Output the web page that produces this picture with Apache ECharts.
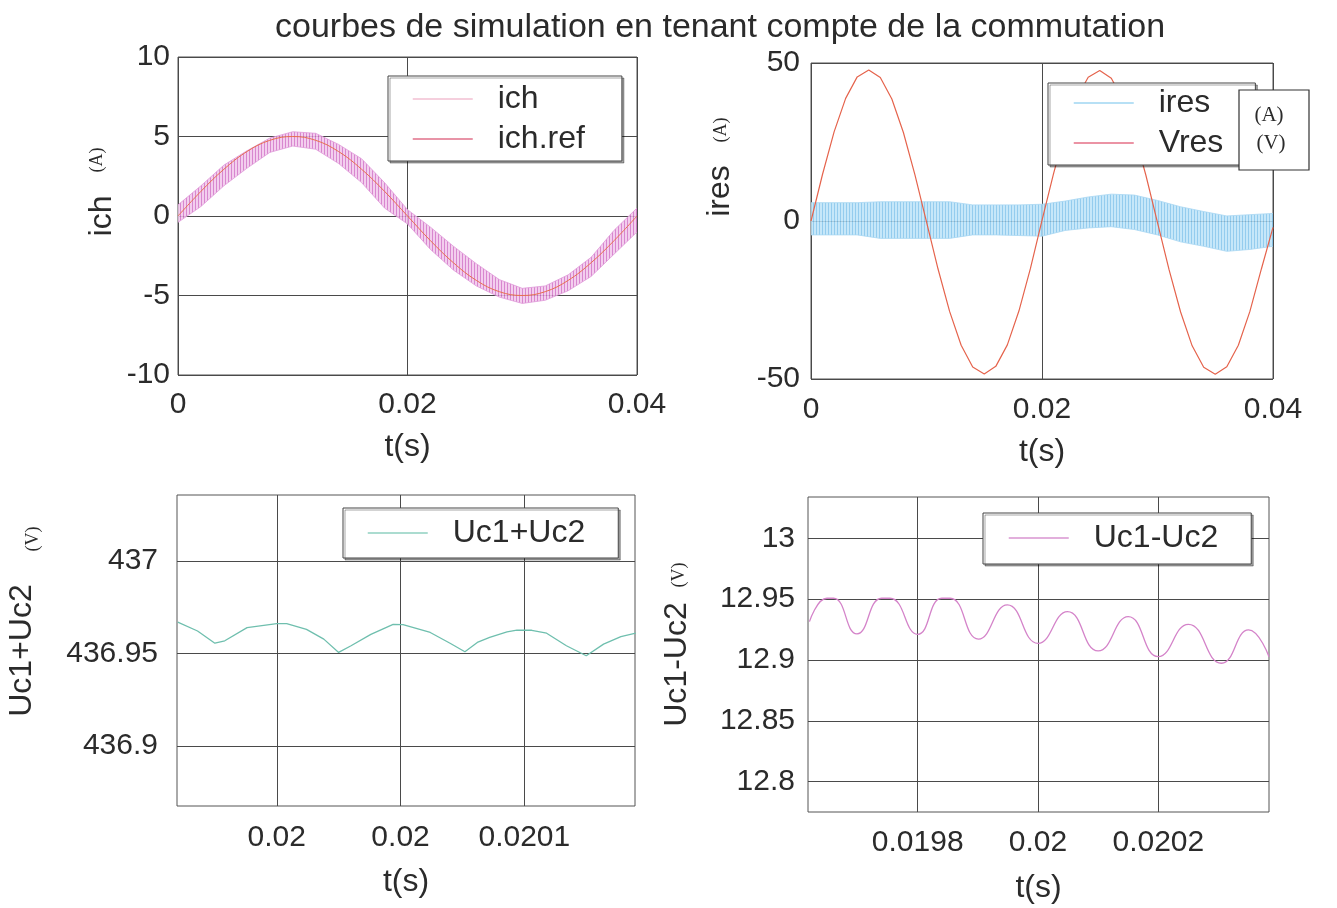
<!DOCTYPE html>
<html>
<head>
<meta charset="utf-8">
<title>courbes de simulation</title>
<script src="https://cdn.jsdelivr.net/npm/echarts@6.0.0/dist/echarts.min.js"></script>
<style>
    html, body { margin: 0; padding: 0; background: #fff; }
    #main { width: 1337px; height: 908px; }
</style>
</head>
<body>
<div id="main"></div>
<script>
// ---- valeurs ----
// ich : bande de commutation (haut / bas) et reference
var tIch    = [0, 0.002, 0.004, 0.006, 0.008, 0.010, 0.012, 0.014, 0.016, 0.018, 0.020, 0.022, 0.024, 0.026, 0.028, 0.030, 0.032, 0.034, 0.036, 0.038, 0.040];
var ichHaut = [0.7, 1.9, 3.2, 4.1, 4.9, 5.3, 5.2, 4.5, 3.6, 2.1, 0.4, -0.7, -1.9, -3.0, -4.0, -4.55, -4.4, -3.7, -2.6, -0.9, 0.5];
var ichBas  = [-0.4, 0.6, 1.9, 3.0, 4.0, 4.4, 4.2, 3.3, 2.1, 0.5, -0.5, -2.1, -3.4, -4.4, -5.1, -5.5, -5.3, -4.7, -3.8, -2.4, -1.0];
var ichRef  = [0, 1.55, 2.94, 4.05, 4.76, 5.0, 4.76, 4.05, 2.94, 1.55, 0, -1.55, -2.94, -4.05, -4.76, -5.0, -4.76, -4.05, -2.94, -1.55, 0];

// ires : bande (haut / bas)
var tRes     = [0, 0.002, 0.004, 0.006, 0.008, 0.010, 0.012, 0.014, 0.016, 0.018, 0.020, 0.022, 0.024, 0.026, 0.028, 0.030, 0.032, 0.034, 0.036, 0.038, 0.040];
var iresHaut = [5.8, 5.8, 5.8, 6.1, 6.1, 6.1, 6.1, 5.1, 5.1, 5.1, 5.3, 6.3, 7.6, 8.5, 8.2, 6.5, 4.5, 3.0, 1.6, 2.0, 2.4];
var iresBas  = [-4.4, -4.4, -4.4, -5.5, -5.5, -5.5, -5.5, -4.4, -4.4, -4.6, -4.8, -3.0, -2.2, -1.8, -2.7, -4.4, -6.6, -8.0, -9.6, -9.0, -8.0];

// Vres
var tVres = [0, 0.001, 0.002, 0.003, 0.004, 0.005, 0.006, 0.007, 0.008, 0.009, 0.010, 0.011, 0.012, 0.013, 0.014, 0.015, 0.016, 0.017, 0.018, 0.019, 0.020,
             0.021, 0.022, 0.023, 0.024, 0.025, 0.026, 0.027, 0.028, 0.029, 0.030, 0.031, 0.032, 0.033, 0.034, 0.035, 0.036, 0.037, 0.038, 0.039, 0.040];
var vres  = [0, 14.8, 28.2, 38.8, 45.6, 47.8, 45.4, 38.6, 28.0, 14.6, -0.3, -15.2, -28.6, -39.3, -46.2, -48.4, -46.0, -39.2, -28.5, -15.0, 0.2,
             15.0, 28.4, 38.9, 45.5, 47.6, 45.2, 38.4, 27.8, 14.4, -0.5, -15.4, -28.8, -39.5, -46.3, -48.5, -46.1, -39.3, -28.6, -15.1, -2.0];

// Uc1+Uc2
var tSomme = [0.01991, 0.019918, 0.019925, 0.019929, 0.019938, 0.01995, 0.019954, 0.019962, 0.019969, 0.019975, 0.01998, 0.019988, 0.019997, 0.020001,
              0.020012, 0.02002, 0.020026, 0.020031, 0.020036, 0.020043, 0.020047, 0.020053, 0.020059, 0.020067, 0.020075, 0.020082, 0.020089, 0.020095];
var uSomme = [436.9669, 436.9621, 436.9555, 436.9568, 436.9639, 436.9661, 436.9661, 436.963, 436.9577, 436.9505, 436.9541, 436.9603, 436.9657, 436.9656,
              436.9613, 436.9555, 436.9509, 436.9559, 436.9586, 436.9616, 436.9626, 436.9625, 436.9609, 436.9541, 436.9487, 436.955, 436.9591, 436.9609];

// Uc1-Uc2
var tDiff = [0.01962, 0.019649, 0.01966, 0.019699, 0.01974, 0.019754, 0.0198, 0.01984, 0.019854, 0.019901, 0.019949, 0.02, 0.020049,
             0.0201, 0.02015, 0.0202, 0.02025, 0.020305, 0.02035, 0.020384];
var uDiff = [12.9315, 12.9507, 12.9507, 12.9214, 12.9507, 12.9507, 12.9211, 12.9507, 12.9507, 12.9172, 12.9452, 12.9137, 12.9397,
             12.9074, 12.9356, 12.9027, 12.9293, 12.8973, 12.9247, 12.9027];

// graduations des graphes du bas
var ticksSomme  = [0.01995, 0.02, 0.02005];
var labelsSomme = ['0.02', '0.02', '0.0201'];
var ticksDiff   = [0.0198, 0.02, 0.0202];
var labelsDiff  = ['0.0198', '0.02', '0.0202'];
var ticksUs     = [436.9, 436.95, 437];
var ticksUd     = [12.8, 12.85, 12.9, 12.95, 13];

// ---- construction ----
var police = 'Liberation Sans, Arial, sans-serif';
var serif = 'Liberation Serif, Times New Roman, serif';
var encre = '#2b2b2b';

function paires(t, v) {
    return t.map(function (x, i) { return [x, v[i]]; });
}
function hachures(fonce, clair) {
    var c = document.createElement('canvas');
    c.width = 3; c.height = 4;
    var g = c.getContext('2d');
    g.fillStyle = clair; g.fillRect(0, 0, 3, 4);
    g.fillStyle = fonce; g.fillRect(0, 0, 1, 4);
    return { image: c, repeat: 'repeat' };
}
function libelle(ticks, labels) {
    return function (v) {
        for (var i = 0; i < ticks.length; i++) {
            if (Math.abs(v - ticks[i]) < 1e-9) return labels[i];
        }
        return '';
    };
}

var grille = { show: true, lineStyle: { color: '#4a4a4a', width: 1 } };
var texte = { color: encre, fontSize: 30, fontFamily: police };
var titreAxe = { color: encre, fontSize: 32, fontFamily: police };

function axeX(idx, opts) {
    var a = {
        type: 'value', gridIndex: idx,
        name: 't(s)', nameLocation: 'middle', nameGap: opts.gap,
        nameTextStyle: titreAxe,
        min: opts.min, max: opts.max,
        axisLine: { show: false }, axisTick: { show: false },
        axisLabel: Object.assign({ margin: opts.margin }, texte),
        splitLine: grille
    };
    if (opts.interval) a.interval = opts.interval;
    if (opts.ticks) {
        a.axisTick.customValues = opts.ticks;
        a.axisLabel.customValues = opts.ticks;
        a.axisLabel.formatter = libelle(opts.ticks, opts.labels);
    }
    return a;
}
function axeY(idx, opts) {
    var a = {
        type: 'value', gridIndex: idx,
        name: opts.name, nameLocation: 'middle', nameGap: opts.gap,
        nameTextStyle: Object.assign({ padding: opts.pad || 0 }, titreAxe),
        min: opts.min, max: opts.max,
        axisLine: { show: false }, axisTick: { show: false },
        axisLabel: Object.assign({ margin: opts.margin }, texte),
        splitLine: grille
    };
    if (opts.interval) a.interval = opts.interval;
    if (opts.ticks) {
        a.axisTick.customValues = opts.ticks;
        a.axisLabel.customValues = opts.ticks;
    }
    return a;
}
function legende(x, y, noms, couleurs, pad) {
    return {
        orient: 'vertical', left: x, top: y,
        data: noms.map(function (n, i) {
            return {
                name: n,
                itemStyle: { opacity: 0 },
                lineStyle: { color: couleurs[i], width: 1.5, opacity: 1 }
            };
        }),
        itemWidth: 60, itemHeight: 14, itemGap: 8,
        padding: pad,
        backgroundColor: '#fff', borderColor: '#444', borderWidth: 1,
        shadowColor: 'rgba(0,0,0,0.35)', shadowOffsetX: 2, shadowOffsetY: 2, shadowBlur: 0,
        textStyle: { fontSize: 32, color: encre, fontFamily: police, padding: [0, 0, 0, 20] },
        selectedMode: false
    };
}
function unite(txt, x, y) {
    return {
        type: 'text', x: x, y: y, rotation: Math.PI / 2, z: 100,
        style: { text: txt, font: '18px ' + serif, fill: encre, align: 'center', verticalAlign: 'middle' }
    };
}
// bande de commutation : polygone entre l'enveloppe haute et l'enveloppe basse
function bande(idx, t, haut, bas, motif) {
    return {
        type: 'custom', xAxisIndex: idx, yAxisIndex: idx, silent: true,
        data: paires(t, haut), encode: { x: 0, y: 1 },
        renderItem: function (params, api) {
            if (params.dataIndex !== 0) return;
            var pts = [];
            for (var i = 0; i < t.length; i++) pts.push(api.coord([t[i], haut[i]]));
            for (var j = t.length - 1; j >= 0; j--) pts.push(api.coord([t[j], bas[j]]));
            return { type: 'polygon', shape: { points: pts }, style: { fill: motif, opacity: 0.85 } };
        }
    };
}
function courbe(idx, nom, t, v, couleur, largeur, lisse) {
    return {
        type: 'line', name: nom, xAxisIndex: idx, yAxisIndex: idx,
        data: paires(t, v), symbol: 'none', smooth: lisse || false,
        itemStyle: { color: couleur },
        lineStyle: { width: largeur, color: couleur }
    };
}

var chart = echarts.init(document.getElementById('main'));

var option = {
    animation: false,
    backgroundColor: '#fff',
    title: {
        text: 'courbes de simulation en tenant compte de la commutation',
        left: 270, top: 6,
        textStyle: { fontSize: 34, fontWeight: 'normal', color: encre, fontFamily: police }
    },
    grid: [
        { left: 178, top: 57, width: 459, height: 318, show: true, borderColor: '#555', borderWidth: 1 },
        { left: 811, top: 63, width: 462, height: 316, show: true, borderColor: '#555', borderWidth: 1 },
        { left: 177, top: 495, width: 458, height: 311, show: true, borderColor: '#555', borderWidth: 1 },
        { left: 808, top: 497, width: 461, height: 315, show: true, borderColor: '#555', borderWidth: 1 }
    ],
    xAxis: [
        axeX(0, { min: 0, max: 0.04, interval: 0.02, gap: 56, margin: 15 }),
        axeX(1, { min: 0, max: 0.04, interval: 0.02, gap: 57, margin: 16 }),
        axeX(2, { min: 0.0199097, max: 0.0200947, ticks: ticksSomme, labels: labelsSomme, gap: 60, margin: 17 }),
        axeX(3, { min: 0.0196176, max: 0.020384, ticks: ticksDiff, labels: labelsDiff, gap: 60, margin: 16 })
    ],
    yAxis: [
        axeY(0, { name: 'ich', min: -10, max: 10, interval: 5, gap: 60, margin: 8 }),
        axeY(1, { name: 'ires', min: -50, max: 50, interval: 50, gap: 75, margin: 11, pad: [0, 0, 0, 60] }),
        axeY(2, { name: 'Uc1+Uc2', min: 436.8674, max: 437.0357, ticks: ticksUs, gap: 139, margin: 19 }),
        axeY(3, { name: 'Uc1-Uc2', min: 12.7751, max: 13.0339, ticks: ticksUd, gap: 115, margin: 13, pad: [0, 20, 0, 0] })
    ],
    legend: [
        legende(388, 76, ['ich', 'ich.ref'], ['#f2bfd2', '#e0708a'], [7, 37, 6, 24]),
        legende(1048, 83, ['ires', 'Vres'], ['#9fd6f2', '#e46f86'], [4, 32, 6, 25]),
        legende(343, 508, ['Uc1+Uc2'], ['#8fd0c0'], [9, 33, 9, 24]),
        legende(983, 513, ['Uc1-Uc2'], ['#d895d0'], [9, 33, 10, 25])
    ],
    graphic: [
        unite('(A)', 97, 160),
        unite('(A)', 721, 130),
        unite('(V)', 33, 539),
        unite('(V)', 679, 575),
        { type: 'rect', z: 100, shape: { x: 1239, y: 90, width: 70, height: 80 },
          style: { fill: '#fff', stroke: '#333', lineWidth: 1.2 } },
        { type: 'text', z: 101, x: 1269, y: 115,
          style: { text: '(A)', font: '21px ' + serif, fill: encre, align: 'center', verticalAlign: 'middle' } },
        { type: 'text', z: 101, x: 1271, y: 143,
          style: { text: '(V)', font: '21px ' + serif, fill: encre, align: 'center', verticalAlign: 'middle' } }
    ],
    series: [
        bande(0, tIch, ichHaut, ichBas, hachures('#d272c7', '#f1c6ec')),
        courbe(0, 'ich', tIch, ichHaut, '#e09ad9', 0.8),
        courbe(0, 'ich', tIch, ichBas, '#e09ad9', 0.8),
        courbe(0, 'ich.ref', tIch, ichRef, '#e8704e', 1, 0.4),
        bande(1, tRes, iresHaut, iresBas, hachures('#82c3ec', '#bce3f8')),
        courbe(1, 'ires', tRes, iresHaut, '#a8d7f2', 0.8),
        courbe(1, 'ires', tRes, iresBas, '#a8d7f2', 0.8),
        courbe(1, 'Vres', tVres, vres, '#e5634c', 1.2),
        courbe(2, 'Uc1+Uc2', tSomme, uSomme, '#6fbfae', 1.3),
        courbe(3, 'Uc1-Uc2', tDiff, uDiff, '#d483c9', 1.3, 0.5)
    ]
};

chart.setOption(option);
</script>
</body>
</html>
